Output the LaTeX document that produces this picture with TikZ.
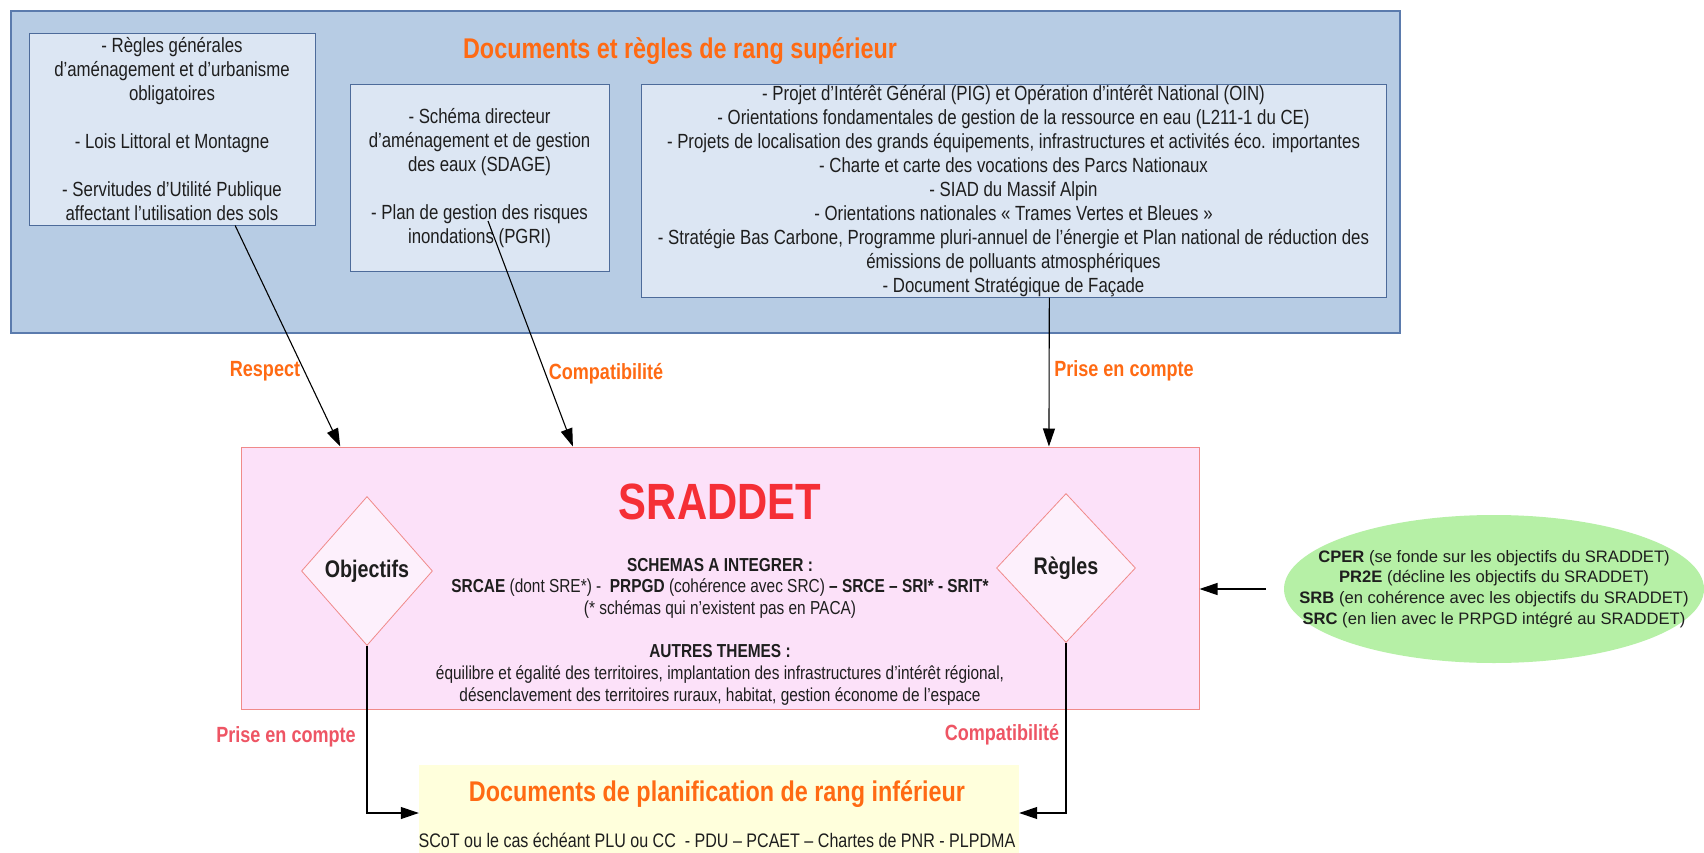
\documentclass[tikz,border=0pt]{standalone}
\usepackage{fontspec}
\setmainfont{Liberation Sans}[FakeStretch=0.82]
\newfontfamily\widefont{Liberation Sans}
\usetikzlibrary{arrows.meta,shapes.geometric,calc}

\definecolor{supfill}{HTML}{B7CCE4}
\definecolor{supline}{HTML}{5B7BAD}
\definecolor{docfill}{HTML}{DCE6F3}
\definecolor{docline}{HTML}{4D6B9A}
\definecolor{titleorange}{HTML}{FF6A13}
\definecolor{radfill}{HTML}{FCE1F9}
\definecolor{radline}{HTML}{F08A8A}
\definecolor{radred}{HTML}{F52F36}
\definecolor{diafill}{HTML}{FDF0FC}
\definecolor{lowred}{HTML}{EE5564}
\definecolor{cperfill}{HTML}{B6F0A6}
\definecolor{inffill}{HTML}{FFFFDC}
\definecolor{ink}{HTML}{1E1E1E}

\begin{document}
\begin{tikzpicture}[x=1pt,y=-1pt,
  supbox/.style={draw=supline,fill=supfill,line width=1.2pt,inner sep=0pt},
  docbox/.style={draw=docline,fill=docfill,line width=1pt,inner sep=0pt,align=center,
    text=ink,font=\fontsize{20.5}{24}\selectfont},
  bigtitle/.style={text=titleorange,font=\fontsize{28.5}{32}\selectfont\bfseries,inner sep=0pt},
  radbox/.style={draw=radline,fill=radfill,line width=1pt,inner sep=0pt},
  diabox/.style={diamond,draw=radline,fill=diafill,line width=0.8pt,inner sep=0pt,
    text=ink,font=\fontsize{24}{28}\selectfont\bfseries},
  uplabel/.style={text=titleorange,font=\fontsize{22}{26}\selectfont\bfseries,inner sep=0pt},
  lowlabel/.style={text=lowred,font=\fontsize{22}{26}\selectfont\bfseries,inner sep=0pt},
  arr/.style={draw=black,line width=1.1pt,-{Triangle[length=18pt,width=12pt]}}
]
\useasboundingbox (0,0) rectangle (1704,853);
\fill[white] (0,0) rectangle (1704,853);

% higher-ranking documents
\node[supbox,minimum width=1389pt,minimum height=322pt] (sup) at (705.5,172) {};
\node[bigtitle] (suptitle) at (680,51) {Documents et règles de rang supérieur};
\node[docbox,minimum width=286pt,minimum height=191pt] (lft) at (172,129.5)
  {- Règles générales\\d'aménagement et d'urbanisme\\obligatoires\\[24pt]
   - Lois Littoral et Montagne\\[24pt]
   - Servitudes d'Utilité Publique\\affectant l'utilisation des sols};
\node[docbox,minimum width=259pt,minimum height=186pt] (mid) at (479.5,178)
  {- Schéma directeur\\d'aménagement et de gestion\\des eaux (SDAGE)\\[24pt]
   - Plan de gestion des risques\\inondations (PGRI)};
\node[docbox,minimum width=745pt,minimum height=212pt] (rgt) at (1013.5,191)
  {- Projet d'Intérêt Général (PIG) et Opération d'intérêt National (OIN)\\
   - Orientations fondamentales de gestion de la ressource en eau (L211-1 du CE)\\
   - Projets de localisation des grands équipements, infrastructures et activités éco. importantes\\
   - Charte et carte des vocations des Parcs Nationaux\\
   - SIAD du Massif Alpin\\
   - Orientations nationales « Trames Vertes et Bleues »\\
   - Stratégie Bas Carbone, Programme pluri-annuel de l'énergie et Plan national de réduction des\\
   émissions de polluants atmosphériques\\
   - Document Stratégique de Façade};

% SRADDET
\node[radbox,minimum width=958pt,minimum height=262pt] (srad) at (720,578) {};
\node[text=radred,font=\fontsize{51}{56}\selectfont\bfseries,inner sep=0pt] (sradtitle) at (720,502) {SRADDET};
\node[align=center,text=ink,inner sep=0pt,font=\fontsize{18.8}{21.7}\selectfont] (sradtext) at (720,631.5)
  {\textbf{SCHEMAS A INTEGRER :}\\
   \textbf{SRCAE} (dont SRE*) -\ \ \textbf{PRPGD} (cohérence avec SRC) \textbf{– SRCE – SRI* - SRIT*}\\
   (* schémas qui n'existent pas en PACA)\\[21.7pt]
   \textbf{AUTRES THEMES :}\\
   équilibre et égalité des territoires, implantation des infrastructures d'intérêt régional,\\
   désenclavement des territoires ruraux, habitat, gestion économe de l'espace};
\node[diabox,minimum width=131pt,minimum height=149pt] (obj) at (367,571) {Objectifs};
\node[diabox,minimum width=139pt,minimum height=149pt] (reg) at (1066,568) {Règles};

% related regional documents
\node[ellipse,fill=cperfill,draw=none,minimum width=420pt,minimum height=148pt,inner sep=0pt] (cper) at (1494,589) {};
\node[align=center,text=ink,inner sep=0pt,font=\widefont\fontsize{16.6}{20.7}\selectfont] (cpertext) at (cper.center)
  {\textbf{CPER} (se fonde sur les objectifs du SRADDET)\\
   \textbf{PR2E} (décline les objectifs du SRADDET)\\
   \textbf{SRB} (en cohérence avec les objectifs du SRADDET)\\
   \textbf{SRC} (en lien avec le PRPGD intégré au SRADDET)};
\coordinate (cperend) at (1266,589);

% lower-ranking documents: the box runs on past the lower edge of the page
\node[fill=inffill,draw=none,minimum width=600pt,minimum height=120pt,inner sep=0pt] (inf) at (719,825) {};
\coordinate (infin) at (719,813);
\node[bigtitle] (inftitle) at (717,794) {Documents de planification de rang inférieur};
\node[text=ink,inner sep=0pt,font=\fontsize{19.6}{24}\selectfont] (inftext) at (717,840)
  {SCoT ou le cas échéant PLU ou CC\ \ - PDU – PCAET – Chartes de PNR - PLPDMA};

% connectors
\coordinate (pgri) at (488,221);
\draw[arr] ($(lft.south west)!0.72!(lft.south east)$) -- ($(srad.north west)!0.104!(srad.north east)$);
\draw[arr] (pgri) -- ($(srad.north west)!0.3466!(srad.north east)$);
\draw[arr] ($(rgt.south west)!0.548!(rgt.south east)$) -- ($(srad.north west)!0.843!(srad.north east)$);
\draw[arr] (cperend) -- (srad.east |- cperend);
\draw[arr] (obj.south) |- (inf.west |- infin);
\draw[arr] (reg.south) |- (inf.east |- infin);

% connector labels
\node[uplabel] (lrespect) at (265,371) {Respect};
\node[uplabel] (lcompat) at (606,374) {Compatibilité};
\node[uplabel] (lprise) at (1124,371) {Prise en compte};
\node[lowlabel] (lprise2) at (286,737) {Prise en compte};
\node[lowlabel] (lcompat2) at (1002,735) {Compatibilité};
\end{tikzpicture}
\end{document}
